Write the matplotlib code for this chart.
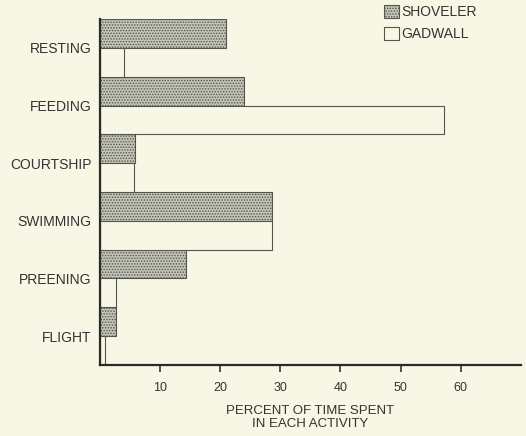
import matplotlib.pyplot as plt
import numpy as np
from matplotlib.patches import Patch

activities = ["RESTING", "FEEDING", "COURTSHIP", "SWIMMING", "PREENING", "FLIGHT"]
shoveler = [21, 24, 5.8, 28.6, 14.3, 2.7]
gadwall = [4.0, 57.2, 5.7, 28.6, 2.6, 0.8]

bg = "#f8f6e4"
edge = "#55554f"
fill = "#c3c5b6"
plt.rcParams["font.family"] = ["Liberation Sans", "DejaVu Sans"]
plt.rcParams["hatch.color"] = "#878a7d"
plt.rcParams["hatch.linewidth"] = 0.7

fig = plt.figure(figsize=(5.26, 4.36), dpi=100, facecolor=bg)
ax = fig.add_axes([0.190, 0.163, 0.800, 0.793], facecolor=bg)

y = np.arange(len(activities))
ax.barh(y + 0.25, shoveler, height=0.5, color=fill, hatch="......",
        edgecolor=edge, linewidth=0.8)
ax.barh(y + 0.75, gadwall, height=0.5, color=bg, edgecolor=edge, linewidth=0.8)

ax.set_ylim(len(activities), 0)
ax.set_xlim(0, 70)
ax.set_yticks(y + 0.5)
ax.set_yticklabels(activities, fontsize=10, color="#333333")
ax.tick_params(axis="y", length=0, pad=6)
ax.set_xticks([10, 20, 30, 40, 50, 60])
ax.tick_params(axis="x", direction="out", length=5, width=1.2, colors="#333333",
               labelsize=9, pad=7)

for s in ["top", "right"]:
    ax.spines[s].set_visible(False)
for s in ["left", "bottom"]:
    ax.spines[s].set_linewidth(1.6)
    ax.spines[s].set_color("#2a2a2a")

ax.set_xlabel("PERCENT OF TIME SPENT\nIN EACH ACTIVITY", fontsize=9.5,
              color="#333333", labelpad=8, linespacing=1.15)

handles = [Patch(facecolor=fill, hatch="......", edgecolor=edge, linewidth=0.8),
           Patch(facecolor=bg, edgecolor=edge, linewidth=0.8)]
fig.legend(handles, ["SHOVELER", "GADWALL"], loc="upper left",
           bbox_to_anchor=(371 / 526, 1.018), frameon=False, fontsize=10,
           handlelength=1.1, handleheight=1.1, handletextpad=0.2,
           labelspacing=0.55, labelcolor="#333333")

fig.savefig("out.png", dpi=100, facecolor=bg)
